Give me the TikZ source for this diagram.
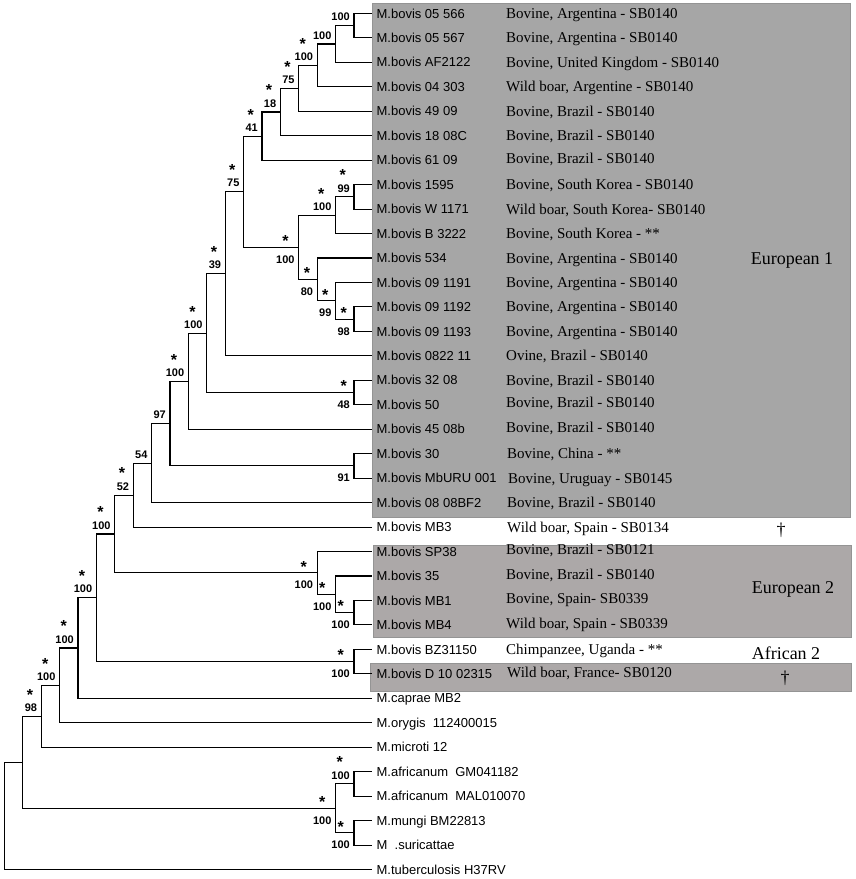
\documentclass[tikz,border=0pt]{standalone}
\usepackage{fontspec}
\setmainfont{Liberation Serif}
\setsansfont{Liberation Sans}
\definecolor{eua}{RGB}{166,166,166}
\definecolor{eub}{RGB}{172,168,168}
\definecolor{rim}{RGB}{148,148,148}
\usetikzlibrary{calc}

\newcommand{\clade}[4]{\path let \p1=(#3), \p2=(#4) in ({372.4pt-18.4pt*#2},{0.5*\y1+0.5*\y2}) coordinate (#1);
  \draw[branch] (#1) |- (#3); \draw[branch] (#1) |- (#4);}
\newcommand{\numup}[2]{\node[boot,anchor=south east] (#1n) at ([xshift=-4pt,yshift=4.5pt]#1) {#2};}
\newcommand{\numdn}[2]{\node[boot,anchor=north east] (#1n) at ([xshift=-4pt,yshift=-8pt]#1) {#2};}
\newcommand{\stup}[2]{\numup{#1}{#2}\node[star] (#1s) at ([xshift=-1pt,yshift=7.5pt]#1n.center) {*};}
\newcommand{\stdn}[2]{\numdn{#1}{#2}\node[star] (#1s) at ([yshift=12.8pt]#1n.center) {*};}

\begin{document}
\begin{tikzpicture}[x=1pt,y=-1pt,
  branch/.style={line width=1.1pt},
  leaf/.style={anchor=west,font=\sffamily\fontsize{13}{13}\selectfont,inner xsep=4pt,inner ysep=0pt,text height=9.3pt,text depth=0pt},
  host/.style={anchor=west,font=\fontsize{15}{15}\selectfont,inner sep=0pt,text height=10pt,text depth=0pt},
  boot/.style={font=\sffamily\bfseries\fontsize{11}{11}\selectfont,inner sep=0pt},
  star/.style={font=\sffamily\bfseries\fontsize{16}{16}\selectfont,inner sep=0pt,anchor=base},
  grp/.style={font=\fontsize{18}{18}\selectfont,inner sep=0pt,text height=12pt,text depth=0pt}]
\useasboundingbox (0,0) rectangle (856,879);
\fill[eua,draw=rim,line width=0.5pt] (372,3) rectangle (850,517);
\fill[eub,draw=rim,line width=0.5pt] (373,545) rectangle (851,637);
\fill[eub,draw=rim,line width=0.5pt] (370,663) rectangle (851,691);

\node[leaf] (t05566) at (372.4,13.4) {M.bovis 05 566};		\node[host] (h05566) at (506,13.4) {Bovine, Argentina - SB0140};
\node[leaf] (t05567) at (372.4,37.86) {M.bovis 05 567};		\node[host] (h05567) at (506,37.86) {Bovine, Argentina - SB0140};
\node[leaf] (tAF2122) at (372.4,62.32) {M.bovis AF2122};		\node[host] (hAF2122) at (506,62.32) {Bovine, United Kingdom - SB0140};
\node[leaf] (t04303) at (372.4,86.78) {M.bovis 04 303};		\node[host] (h04303) at (506,86.78) {Wild boar, Argentine - SB0140};
\node[leaf] (t4909) at (372.4,111.24) {M.bovis 49 09};		\node[host] (h4909) at (506,111.24) {Bovine, Brazil - SB0140};
\node[leaf] (t1808C) at (372.4,135.7) {M.bovis 18 08C};		\node[host] (h1808C) at (506,135.7) {Bovine, Brazil - SB0140};
\node[leaf] (t6109) at (372.4,160.16) {M.bovis 61 09};		\node[host] (h6109) at (506,158) {Bovine, Brazil - SB0140};
\node[leaf] (t1595) at (372.4,184.62) {M.bovis 1595};		\node[host] (h1595) at (506,184.62) {Bovine, South Korea - SB0140};
\node[leaf] (tW1171) at (372.4,209.08) {M.bovis W 1171};		\node[host] (hW1171) at (506,209.08) {Wild boar, South Korea- SB0140};
\node[leaf] (tB3222) at (372.4,233.54) {M.bovis B 3222};		\node[host] (hB3222) at (506,233.54) {Bovine, South Korea - **};
\node[leaf] (t534) at (372.4,258) {M.bovis 534};		\node[host] (h534) at (506,258) {Bovine, Argentina - SB0140};
\node[leaf] (t091191) at (372.4,282.46) {M.bovis 09 1191};		\node[host] (h091191) at (506,282.46) {Bovine, Argentina - SB0140};
\node[leaf] (t091192) at (372.4,306.92) {M.bovis 09 1192};		\node[host] (h091192) at (506,306.92) {Bovine, Argentina - SB0140};
\node[leaf] (t091193) at (372.4,331.38) {M.bovis 09 1193};		\node[host] (h091193) at (506,331.38) {Bovine, Argentina - SB0140};
\node[leaf] (t082211) at (372.4,355.84) {M.bovis 0822 11};		\node[host] (h082211) at (506,355.84) {Ovine, Brazil - SB0140};
\node[leaf] (t3208) at (372.4,380.3) {M.bovis 32 08};		\node[host] (h3208) at (506,380.3) {Bovine, Brazil - SB0140};
\node[leaf] (t50) at (372.4,404.76) {M.bovis 50};		\node[host] (h50) at (506,402.5) {Bovine, Brazil - SB0140};
\node[leaf] (t4508b) at (372.4,429.22) {M.bovis 45 08b};		\node[host] (h4508b) at (506,427.5) {Bovine, Brazil - SB0140};
\node[leaf] (t30) at (372.4,453.68) {M.bovis 30};		\node[host] (h30) at (507,453.68) {Bovine, China - **};
\node[leaf] (tMbURU) at (372.4,478.14) {M.bovis MbURU 001};		\node[host] (hMbURU) at (508,478.14) {Bovine, Uruguay - SB0145};
\node[leaf] (t0808BF2) at (372.4,502.6) {M.bovis 08 08BF2};		\node[host] (h0808BF2) at (507,502.6) {Bovine, Brazil - SB0140};
\node[leaf] (tMB3) at (372.4,527.06) {M.bovis MB3};		\node[host] (hMB3) at (507,527.06) {Wild boar, Spain - SB0134};
\node[leaf] (tSP38) at (372.4,551.52) {M.bovis SP38};		\node[host] (hSP38) at (506,549.5) {Bovine, Brazil - SB0121};
\node[leaf] (t35) at (372.4,575.98) {M.bovis 35};		\node[host] (h35) at (506,574) {Bovine, Brazil - SB0140};
\node[leaf] (tMB1) at (372.4,600.44) {M.bovis MB1};		\node[host] (hMB1) at (506,598.5) {Bovine, Spain- SB0339};
\node[leaf] (tMB4) at (372.4,624.9) {M.bovis MB4};		\node[host] (hMB4) at (506,623) {Wild boar, Spain - SB0339};
\node[leaf] (tBZ) at (372.4,649.36) {M.bovis BZ31150};		\node[host] (hBZ) at (506,649.36) {Chimpanzee, Uganda - **};
\node[leaf] (tD10) at (372.4,673.82) {M.bovis D 10 02315};		\node[host] (hD10) at (507,672.5) {Wild boar, France- SB0120};
\node[leaf] (tcaprae) at (372.4,698.28) {M.caprae MB2};
\node[leaf] (torygis) at (372.4,722.74) {M.orygis\ \ 112400015};
\node[leaf] (tmicroti) at (372.4,747.2) {M.microti 12};
\node[leaf] (tafrGM) at (372.4,771.66) {M.africanum\ \ GM041182};
\node[leaf] (tafrMAL) at (372.4,796.12) {M.africanum\ \ MAL010070};
\node[leaf] (tmungi) at (372.4,820.58) {M.mungi BM22813};
\node[leaf] (tsuri) at (372.4,845.04) {M\ \ .suricattae};
\node[leaf] (ttub) at (372.4,869.5) {M.tuberculosis H37RV};

\node[grp] (eu1) at (792,258) {European 1};
\node[grp] (eu2) at (793,587) {European 2};
\node[grp] (afr2) at (786,653) {African 2};
\node[grp] (dg1) at (781,529) {\textdagger};
\node[grp] (dg2) at (785,677) {\textdagger};

\clade{na}{1}{t05566}{t05567}		\numup{na}{100}
\clade{nb}{2}{na}{tAF2122}		\numup{nb}{100}
\clade{nc}{3}{nb}{t04303}		\stup{nc}{100}
\clade{nd}{4}{nc}{t4909}		\stup{nd}{75}
\clade{ne}{5}{nd}{t1808C}		\stup{ne}{18}
\clade{nf}{6}{ne}{t6109}		\stup{nf}{41}
\clade{nka}{1}{t1595}{tW1171}		\stup{nka}{99}
\clade{nkb}{2}{nka}{tB3222}		\stup{nkb}{100}
\clade{nke}{1}{t091192}{t091193}		\stdn{nke}{98}
\clade{nkd}{2}{t091191}{nke}		\stdn{nkd}{99}
\clade{nkc}{3}{t534}{nkd}		\stdn{nkc}{80}
\clade{nk}{4}{nkb}{nkc}		\stdn{nk}{100}
\clade{ng}{7}{nf}{nk}		\stup{ng}{75}
\clade{np}{8}{ng}{t082211}		\stup{np}{39}
\clade{nq}{1}{t3208}{t50}		\stdn{nq}{48}
\clade{nr}{9}{np}{nq}		\stup{nr}{100}
\clade{ns}{10}{nr}{t4508b}		\stup{ns}{100}
\clade{nt}{1}{t30}{tMbURU}		\numdn{nt}{91}
\clade{nu}{11}{ns}{nt}		\numup{nu}{97}
\clade{nv}{12}{nu}{t0808BF2}		\numup{nv}{54}
\clade{nw}{13}{nv}{tMB3}		\stup{nw}{52}
\clade{nec}{1}{tMB1}{tMB4}		\stdn{nec}{100}
\clade{neb}{2}{t35}{nec}		\stdn{neb}{100}
\clade{nea}{3}{tSP38}{neb}		\stdn{nea}{100}
\clade{nx}{14}{nw}{nea}		\stup{nx}{100}
\clade{naf}{1}{tBZ}{tD10}		\stdn{naf}{100}
\clade{ny}{15}{nx}{naf}		\stup{ny}{100}
\clade{nz}{16}{ny}{tcaprae}		\stup{nz}{100}
\clade{nzb}{17}{nz}{torygis}		\stup{nzb}{100}
\clade{nzc}{18}{nzb}{tmicroti}		\stup{nzc}{98}
\clade{nfa}{1}{tafrGM}{tafrMAL}		\stup{nfa}{100}
\clade{nfb}{1}{tmungi}{tsuri}		\stdn{nfb}{100}
\clade{nfc}{2}{nfa}{nfb}		\stdn{nfc}{100}
\clade{nzd}{19}{nzc}{nfc}
\clade{root}{20}{nzd}{ttub}
\end{tikzpicture}
\end{document}
